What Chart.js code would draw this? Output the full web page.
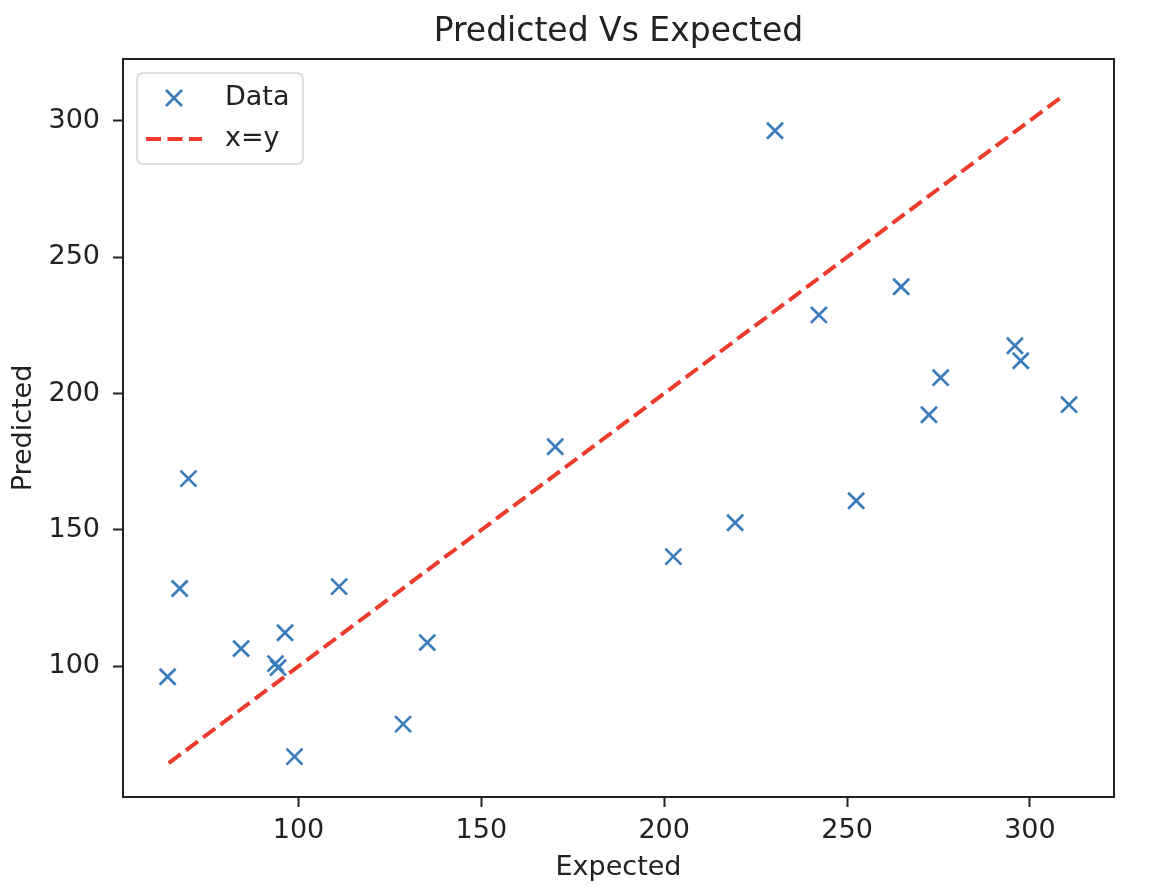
<!DOCTYPE html>
<html>
<head>
<meta charset="utf-8">
<title>Predicted Vs Expected</title>
<script src="https://cdn.jsdelivr.net/npm/chart.js@4.4.1/dist/chart.umd.min.js"></script>
<style>
  html, body { margin: 0; padding: 0; background: #fff; overflow: hidden; }
  #wrap { width: 1150px; height: 886px; position: relative; }
</style>
</head>
<body>
<div id="wrap"><canvas id="chart"></canvas></div>
<script>
// values
const expected  = [64.2, 67.5, 69.9, 84.3, 93.7, 94.4, 96.3, 98.9, 111.1, 128.6, 135.2, 170.2,
                   202.5, 219.4, 230.3, 242.3, 252.5, 264.8, 272.4, 275.6, 295.9, 297.5, 310.7];
const predicted = [96.2, 128.5, 168.8, 106.5, 101.0, 99.5, 112.3, 66.9, 129.2, 78.8, 108.7, 180.5,
                   140.2, 152.6, 296.3, 228.8, 160.7, 239.1, 192.2, 205.8, 217.5, 212.0, 195.9];
const identityX = [64.5, 309.2];
const xTicks = [100, 150, 200, 250, 300];
const yTicks = [100, 150, 200, 250, 300];
const xRange = [52.0, 323.0];
const yRange = [52.1, 322.6];

const FONT = 'DejaVu Sans';
const BLUE = '#3a7cbc';
const RED = '#ec3b2b';
const INK = '#222';

// box round the whole plot area, like matplotlib spines
const frame = {
  id: 'frame',
  afterDraw(chart) {
    const { ctx, chartArea: a } = chart;
    ctx.save();
    ctx.strokeStyle = INK;
    ctx.lineWidth = 2;
    ctx.strokeRect(a.left, a.top, a.right - a.left, a.bottom - a.top);
    ctx.restore();
  }
};

// legend in upper left corner
const boxLegend = {
  id: 'boxLegend',
  afterDraw(chart) {
    const ctx = chart.ctx;
    const a = chart.chartArea;
    const sets = chart.data.datasets;
    const x0 = a.left + 14, y0 = a.top + 14, w = 166, h = 91;
    ctx.save();
    ctx.beginPath();
    ctx.roundRect(x0, y0, w, h, 6);
    ctx.fillStyle = 'rgba(255,255,255,0.8)';
    ctx.fill();
    ctx.strokeStyle = '#d4d4d4';
    ctx.lineWidth = 1.5;
    ctx.stroke();

    // marker entry
    const r = 8;
    let cy = y0 + 25;
    ctx.strokeStyle = BLUE;
    ctx.lineWidth = 2.7;
    ctx.beginPath();
    ctx.moveTo(x0 + 37 - r, cy - r); ctx.lineTo(x0 + 37 + r, cy + r);
    ctx.moveTo(x0 + 37 - r, cy + r); ctx.lineTo(x0 + 37 + r, cy - r);
    ctx.stroke();

    ctx.fillStyle = INK;
    ctx.font = '27px "' + FONT + '"';
    ctx.textBaseline = 'middle';
    ctx.fillText(sets[0].label, x0 + 88, cy);

    // line entry
    cy = y0 + 66;
    ctx.strokeStyle = RED;
    ctx.lineWidth = 4;
    ctx.setLineDash([15, 6.5]);
    ctx.beginPath();
    ctx.moveTo(x0 + 9, cy); ctx.lineTo(x0 + 65, cy);
    ctx.stroke();
    ctx.setLineDash([]);
    ctx.fillText(sets[1].label, x0 + 88, cy);
    ctx.restore();
  }
};

function fixTicks(list) {
  return function (scale) { scale.ticks = list.map(v => ({ value: v })); };
}

new Chart(document.getElementById('chart'), {
  type: 'scatter',
  data: {
    datasets: [{
      label: 'Data',
      data: expected.map((x, i) => ({ x: x, y: predicted[i] })),
      showLine: false,
      pointStyle: 'crossRot',
      pointRadius: 11.3,
      pointHoverRadius: 11.3,
      pointBorderWidth: 2.7,
      pointBorderColor: BLUE,
      pointBackgroundColor: BLUE
    }, {
      label: 'x=y',
      type: 'line',
      data: identityX.map(v => ({ x: v, y: v })),
      borderColor: RED,
      borderWidth: 4,
      borderDash: [15, 6.5],
      pointRadius: 0,
      fill: false
    }]
  },
  plugins: [frame, boxLegend],
  options: {
    responsive: true,
    maintainAspectRatio: false,
    animation: false,
    layout: { padding: { top: 0, right: 36, bottom: 0, left: 0 } },
    plugins: {
      legend: { display: false },
      tooltip: { enabled: false },
      title: {
        display: true,
        text: 'Predicted Vs Expected',
        fullSize: false,
        color: INK,
        font: { family: FONT, size: 33, weight: 'normal', lineHeight: 1.2 },
        padding: { top: 13, bottom: 6.4 }
      }
    },
    scales: {
      x: {
        type: 'linear',
        min: xRange[0],
        max: xRange[1],
        afterBuildTicks: fixTicks(xTicks),
        afterFit(scale) { scale.height = 89; },
        grid: { drawOnChartArea: false, tickLength: 10, tickWidth: 2, tickColor: INK },
        border: { display: true, color: INK, width: 2 },
        ticks: { color: INK, padding: 8, maxRotation: 0, font: { family: FONT, size: 27 } },
        title: {
          display: true, text: 'Expected', color: INK,
          font: { family: FONT, size: 27, lineHeight: 1.2 },
          padding: { top: 0, bottom: 2 }
        }
      },
      y: {
        type: 'linear',
        min: yRange[0],
        max: yRange[1],
        afterBuildTicks: fixTicks(yTicks),
        afterFit(scale) { scale.width = 123; },
        grid: { drawOnChartArea: false, tickLength: 10, tickWidth: 2, tickColor: INK },
        border: { display: true, color: INK, width: 2 },
        ticks: { color: INK, padding: 13, font: { family: FONT, size: 27 } },
        title: {
          display: true, text: 'Predicted', color: INK,
          font: { family: FONT, size: 27, lineHeight: 1.2 },
          padding: { top: 8, bottom: 0 }
        }
      }
    }
  }
});
</script>
</body>
</html>
